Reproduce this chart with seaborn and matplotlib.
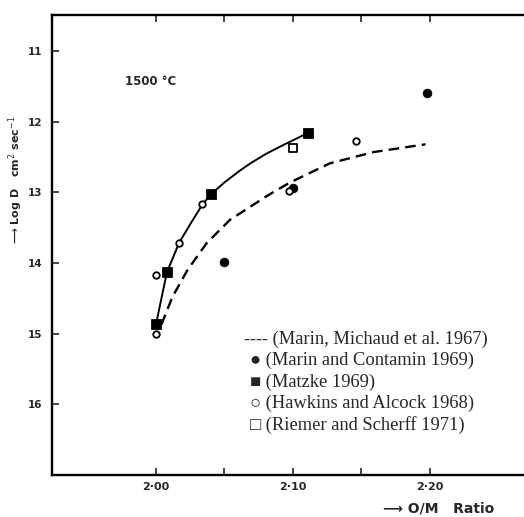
import matplotlib
matplotlib.use("Agg")
import matplotlib.pyplot as plt
import seaborn as sns

# Fitted curves (O/M ratio vs log D)
solid_x = [2.000, 2.008, 2.017, 2.026, 2.034, 2.040, 2.050, 2.0615, 2.069, 2.080, 2.091, 2.111]
solid_y = [14.87, 14.13, 13.71, 13.42, 13.17, 13.03, 12.86, 12.69, 12.59, 12.46, 12.35, 12.16]

dashed_x = [2.004, 2.012, 2.023, 2.037, 2.054, 2.082, 2.098, 2.127, 2.159, 2.197]
dashed_y = [14.87, 14.48, 14.10, 13.72, 13.39, 13.04, 12.86, 12.59, 12.43, 12.32]

# Measurements
marin_contamin_x = [2.050, 2.100, 2.198]
marin_contamin_y = [13.99, 12.94, 11.59]

matzke_x = [2.000, 2.008, 2.040, 2.111]
matzke_y = [14.87, 14.13, 13.03, 12.16]

hawkins_x = [2.000, 2.000, 2.017, 2.034, 2.097, 2.146]
hawkins_y = [14.17, 15.01, 13.71, 13.17, 12.98, 12.27]

riemer_x = [2.100]
riemer_y = [12.37]

x_ticks = [2.00, 2.05, 2.10, 2.15, 2.20]
x_tick_labels = ["2·00", "", "2·10", "", "2·20"]
y_ticks = [11, 12, 13, 14, 15, 16]
y_tick_labels = ["11", "12", "13", "14", "15", "16"]

legend_lines = [
    "---- (Marin, Michaud et al. 1967)",
    "● (Marin and Contamin 1969)",
    "■ (Matzke 1969)",
    "○ (Hawkins and Alcock 1968)",
    "□ (Riemer and Scherff 1971)",
]

sns.set_style("white")
plt.rcParams["font.family"] = ["DejaVu Sans"]

W, H = 524, 517
fig = plt.figure(figsize=(W / 100, H / 100), dpi=100)
ax = fig.add_axes([52 / W, 1 - 475 / H, (W - 52) / W, (475 - 15) / H])

sns.lineplot(x=solid_x, y=solid_y, sort=False, color="black", lw=1.4, ax=ax)
sns.lineplot(x=dashed_x, y=dashed_y, sort=False, color="black", lw=1.7,
             linestyle=(0, (4.5, 2.6)), ax=ax)

sns.scatterplot(x=marin_contamin_x, y=marin_contamin_y, marker="o", s=40,
                color="black", edgecolor="black", ax=ax, zorder=5)
sns.scatterplot(x=matzke_x, y=matzke_y, marker="s", s=50,
                color="black", edgecolor="black", ax=ax, zorder=5)
sns.scatterplot(x=hawkins_x, y=hawkins_y, marker="o", s=22,
                facecolor="white", edgecolor="black", linewidth=1.3, ax=ax, zorder=6)
sns.scatterplot(x=riemer_x, y=riemer_y, marker="s", s=36,
                facecolor="white", edgecolor="black", linewidth=1.3, ax=ax, zorder=6)

ax.set_xlim(1.924, 2.269)
ax.set_ylim(17.0, 10.49)

ax.set_xticks(x_ticks)
ax.set_xticklabels(x_tick_labels, fontsize=8, fontweight="bold")
ax.set_yticks(y_ticks)
ax.set_yticklabels(y_tick_labels, fontsize=7.5, fontweight="bold")
ax.tick_params(axis="x", direction="in", length=5, width=1.2, top=True, bottom=True, pad=5)
ax.tick_params(axis="y", direction="in", length=5, width=1.2, left=True, right=False, pad=7)

for side in ["left", "bottom", "top"]:
    ax.spines[side].set_linewidth(1.7)
    ax.spines[side].set_color("black")
ax.spines["right"].set_visible(False)

# temperature note
ax.text(1.977, 11.43, "1500 °C", fontsize=8.5, fontweight="bold",
        ha="left", va="center")

# axis titles
fig.text(16 / W, 1 - 180 / H, "⟶ Log D   cm$^2$ sec$^{-1}$", rotation=90,
         fontsize=8, fontweight="bold", ha="center", va="center")
fig.text(383 / W, 1 - 508 / H, "⟶ O/M   Ratio", fontsize=10, fontweight="bold",
         ha="left", va="center")

# key
key_y = [339, 360, 382, 403, 425]
for i, (text, y) in enumerate(zip(legend_lines, key_y)):
    x0 = 244 if i == 0 else 250
    fig.text(x0 / W, 1 - y / H, text, fontsize=13.3,
             family=["Liberation Serif", "DejaVu Serif"], ha="left", va="center")

fig.savefig("out.png", dpi=100, facecolor="white")
